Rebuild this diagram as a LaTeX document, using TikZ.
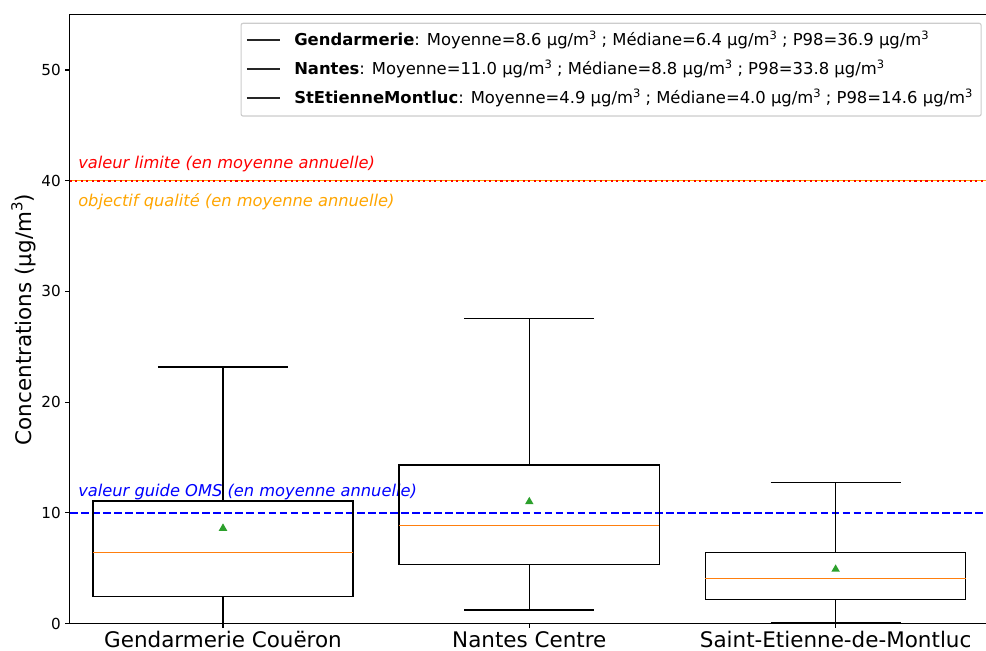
\documentclass[tikz,border=0pt]{standalone}
\usepackage{fontspec}
\setmainfont{DejaVu Sans}
\usepackage{tikz}
\usetikzlibrary{shapes.geometric}
\definecolor{medianorange}{HTML}{FF7F0E}
\definecolor{meangreen}{HTML}{2CA02C}
\definecolor{limitred}{HTML}{FF0000}
\definecolor{targetorange}{HTML}{FFA500}
\definecolor{whoblue}{HTML}{0000FF}
\definecolor{legendgray}{HTML}{CCCCCC}
\newcommand{\ugm}{µg/m\raisebox{0.42em}{\scalebox{0.7}{3}}}
\tikzstyle{Spine} = [draw=black, line width=0.83pt]
\tikzstyle{BoxLine} = [draw=black, line width=1.04pt]
\tikzstyle{Median} = [draw=medianorange, line width=1.04pt]
\tikzstyle{MeanMark} = [regular polygon, regular polygon sides=3, fill=meangreen, inner sep=0pt, minimum size=7.4pt]
\tikzstyle{YTick} = [anchor=east, inner sep=0pt, font=\fontsize{11.4}{13}\selectfont]
\tikzstyle{XTick} = [anchor=base, inner sep=0pt, font=\fontsize{16.1}{19}\selectfont]
\tikzstyle{Note} = [anchor=base west, inner sep=0pt, font=\fontsize{12.2}{14}\selectfont\itshape]
\tikzstyle{LegendText} = [anchor=base west, inner sep=0pt, font=\fontsize{12.3}{14}\selectfont]
\tikzstyle{Handle} = [draw=black!85, line width=1.04pt]

\begin{document}
\begin{tikzpicture}[x=229.725pt, y=8.3025pt]
    \useasboundingbox (0.27196,-2.3939) rectangle (3.49102,56.3234);
    \coordinate (origin) at (0.5,0);
    \coordinate (topright) at (3.5,55);

    % reference levels
    \draw[targetorange, line width=1.2pt] (origin |- 0,40) -- (topright |- 0,40);
    \draw[limitred, line width=1.56pt, dash pattern=on 1.56pt off 2.58pt] (origin |- 0,40) -- (topright |- 0,40);
    \draw[whoblue, line width=1.56pt, dash pattern=on 5.78pt off 2.5pt] (origin |- 0,10) -- (topright |- 0,10);
    \node[Note, text=limitred]     (limit)  at (0.5266,41.06) {valeur limite (en moyenne annuelle)};
    \node[Note, text=targetorange] (target) at (0.5266,37.65) {objectif qualité (en moyenne annuelle)};
    \node[Note, text=whoblue]      (who)    at (0.5266,11.46) {valeur guide OMS (en moyenne annuelle)};

    % boxes
    \foreach \i/\lo/\qa/\med/\qb/\hi/\mean in {1/0.0/2.42/6.43/11.07/23.17/8.6, 2/1.22/5.32/8.83/14.32/27.57/11.0, 3/0.11/2.15/4.05/6.43/12.72/4.9} {
        \draw[BoxLine] (\i-0.425,\qa) rectangle (\i+0.425,\qb);
        \draw[BoxLine] (\i,\qa) -- (\i,\lo);
        \draw[BoxLine] (\i,\qb) -- (\i,\hi);
        \draw[BoxLine] (\i-0.2125,\lo) -- (\i+0.2125,\lo);
        \draw[BoxLine] (\i-0.2125,\hi) -- (\i+0.2125,\hi);
        \draw[Median] (\i-0.425,\med) -- (\i+0.425,\med);
        \node[MeanMark] (mean\i) at (\i,\mean) {};
        \draw[Spine] (\i,0) -- ++(0,-3.4pt);
    }

    % axes
    \draw[Spine] (origin) |- (topright);
    \draw[Spine] (origin) -- (origin -| topright);
    \foreach \v in {0,10,...,50} {
        \draw[Spine] (0.5,\v) -- ++(-3.4pt,0);
        \node[YTick] (ytick\v) at ([xshift=-6.6pt]0.5,\v) {\v};
    }
    \node[XTick] (site1) at (1,-2.15) {Gendarmerie Couëron};
    \node[XTick] (site2) at (2,-2.15) {Nantes Centre};
    \node[XTick] (site3) at (3,-2.15) {Saint-Etienne-de-Montluc};
    \node[XTick, rotate=90] (ylabel) at (0.3748,27.46) {Concentrations (\ugm)};

    % legend
    \draw[draw=legendgray, line width=0.83pt, fill=white, fill opacity=0.8, rounded corners=1.5pt] (1.059,45.84) rectangle (3.475,54.22);
    \draw[Handle] (1.0781,52.71) -- (1.1861,52.71);
    \draw[Handle] (1.0781,50.09) -- (1.1861,50.09);
    \draw[Handle] (1.0781,47.47) -- (1.1861,47.47);
    \node[LegendText] (leg1) at (1.2318,52.17) {\textbf{Gendarmerie}: Moyenne=8.6 \ugm{} ; Médiane=6.4 \ugm{} ; P98=36.9 \ugm};
    \node[LegendText] (leg2) at (1.2318,49.55) {\textbf{Nantes}: Moyenne=11.0 \ugm{} ; Médiane=8.8 \ugm{} ; P98=33.8 \ugm};
    \node[LegendText] (leg3) at (1.2318,46.93) {\textbf{StEtienneMontluc}: Moyenne=4.9 \ugm{} ; Médiane=4.0 \ugm{} ; P98=14.6 \ugm};
  \end{tikzpicture}
\end{document}
